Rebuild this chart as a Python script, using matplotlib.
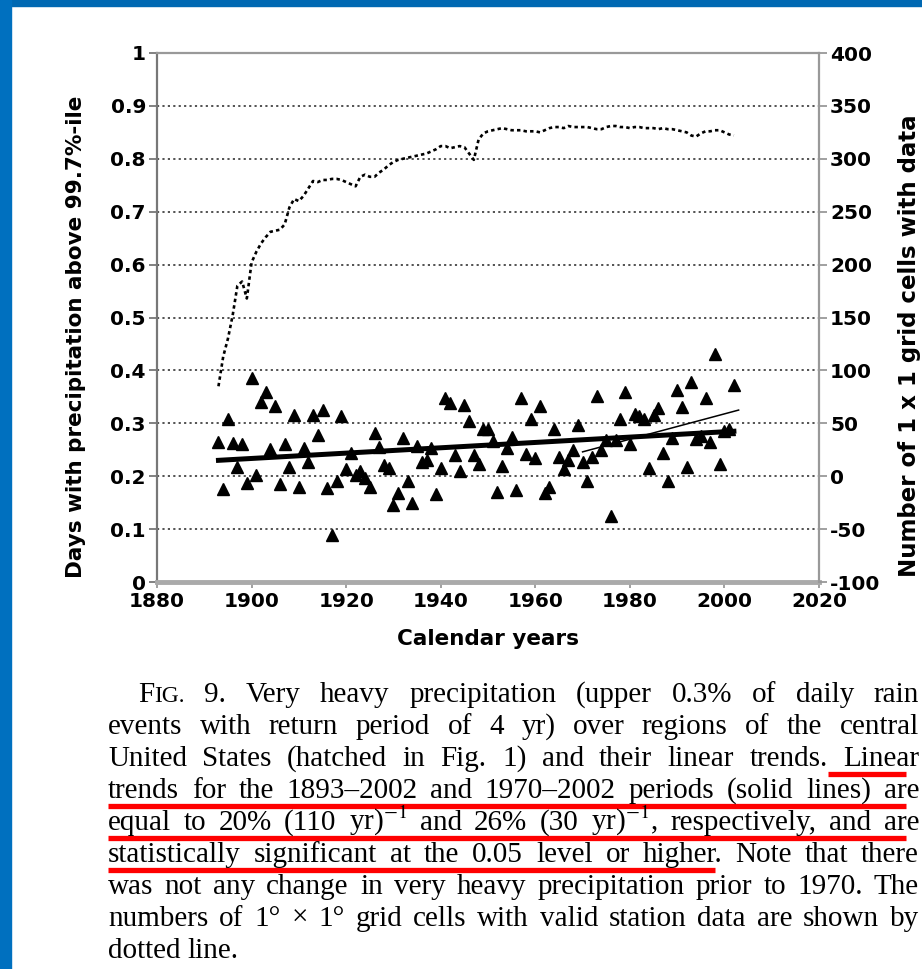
import matplotlib
matplotlib.use('Agg')
import matplotlib.pyplot as plt
from matplotlib.lines import Line2D
from matplotlib.patches import Rectangle

# ---------------------------------------------------------
# Data
# ---------------------------------------------------------
years = list(range(1893, 2003))

heavy_days = [
    0.265, 0.175, 0.308, 0.263, 0.218, 0.260, 0.188, 0.385, 0.202, 0.341,
    0.360, 0.251, 0.333, 0.185, 0.261, 0.218, 0.316, 0.180, 0.253, 0.227,
    0.316, 0.278, 0.325, 0.177, 0.089, 0.190, 0.314, 0.213, 0.243, 0.202,
    0.209, 0.196, 0.180, 0.281, 0.256, 0.221, 0.215, 0.146, 0.169, 0.272,
    0.190, 0.150, 0.257, 0.227, 0.231, 0.253, 0.166, 0.215, 0.347, 0.339,
    0.240, 0.209, 0.335, 0.304, 0.240, 0.224, 0.289, 0.289, 0.267, 0.171,
    0.219, 0.253, 0.275, 0.174, 0.347, 0.242, 0.308, 0.234, 0.333, 0.168,
    0.180, 0.289, 0.237, 0.213, 0.231, 0.250, 0.297, 0.227, 0.190, 0.237,
    0.352, 0.250, 0.268, 0.125, 0.268, 0.308, 0.360, 0.261, 0.318, 0.313,
    0.309, 0.215, 0.316, 0.328, 0.244, 0.190, 0.272, 0.363, 0.331, 0.218,
    0.379, 0.270, 0.276, 0.347, 0.265, 0.431, 0.223, 0.286, 0.290, 0.372,
]

grid_cells = [
    85, 113, 130, 152, 180, 184, 168, 202, 212, 220,
    226, 231, 232, 233, 238, 254, 262, 260, 265, 272,
    279, 278, 280, 280, 281, 281, 280, 278, 276, 274,
    283, 285, 283, 283, 287, 290, 294, 297, 299, 300,
    301, 302, 303, 304, 305, 307, 309, 312, 312, 310,
    311, 312, 311, 305, 299, 318, 324, 326, 327, 328,
    329, 328, 327, 327, 327, 326, 326, 326, 325, 327,
    329, 330, 330, 329, 331, 330, 330, 330, 330, 329,
    328, 328, 330, 331, 331, 330, 330, 329, 330, 330,
    329, 329, 329, 328, 329, 328, 328, 327, 326, 325,
    322, 321, 324, 326, 326, 327, 327, 325, 323, 322,
]

trend_long_years = [1893, 2002]
trend_long = [0.230, 0.285]
trend_recent_years = [1970, 2003]
trend_recent = [0.246, 0.325]

left_ticks = [0, 0.1, 0.2, 0.3, 0.4, 0.5, 0.6, 0.7, 0.8, 0.9, 1]
left_labels = ['0', '0.1', '0.2', '0.3', '0.4', '0.5', '0.6', '0.7', '0.8', '0.9', '1']
right_ticks = [-100, -50, 0, 50, 100, 150, 200, 250, 300, 350, 400]
x_ticks = [1880, 1900, 1920, 1940, 1960, 1980, 2000, 2020]

caption = [
    "FIG. 9. Very heavy precipitation (upper 0.3% of daily rain",
    "events with return period of 4 yr) over regions of the central",
    "United States (hatched in Fig. 1) and their linear trends. Linear",
    "trends for the 1893\u20132002 and 1970\u20132002 periods (solid lines) are",
    "equal to 20% (110 yr)$^{-1}$ and 26% (30 yr)$^{-1}$, respectively, and are",
    "statistically significant at the 0.05 level or higher. Note that there",
    "was not any change in very heavy precipitation prior to 1970. The",
    "numbers of 1\u00b0 \u00d7 1\u00b0 grid cells with valid station data are shown by",
    "dotted line.",
]
# (line index, x start px, x end px)
underlines = [(2, 828, 906), (3, 108, 906), (4, 108, 906), (5, 108, 715)]

# ---------------------------------------------------------
# Figure
# ---------------------------------------------------------
W, H = 922, 969
plt.rcParams['font.family'] = 'DejaVu Sans'
plt.rcParams['mathtext.fontset'] = 'stix'
plt.rcParams['axes.unicode_minus'] = False
fig = plt.figure(figsize=(W / 100, H / 100), dpi=100)


def fx(px):
    return px / W


def fy(py):
    return 1 - py / H


# blue slide frame
fig.patches.append(Rectangle((0, fy(6)), 1, 6 / H, transform=fig.transFigure,
                             color='#0068b2', zorder=0))
fig.patches.append(Rectangle((0, 0), fx(10.5), 1, transform=fig.transFigure,
                             color='#0070bf', zorder=0))

ax = fig.add_axes([fx(157), fy(582), fx(819) - fx(157), (582 - 53) / H])
ax.set_xlim(1880, 2020)
ax.set_ylim(0, 1)
ax.set_axisbelow(True)

ax.yaxis.grid(True, linestyle=(0, (1.2, 1.8)), color='#444444', lw=1.3)
ax.plot(years, heavy_days, linestyle='none', marker='^', ms=8.5,
        color='black', zorder=3)
ax.plot(trend_long_years, trend_long, color='black', lw=3.6, zorder=4)
ax.plot(trend_recent_years, trend_recent, color='black', lw=1.1, zorder=4)

ax.set_xticks(x_ticks)
ax.set_yticks(left_ticks)
ax.set_yticklabels(left_labels)
ax.tick_params(axis='y', direction='out', length=6, width=1.3, color='#777777',
               pad=2, labelsize=14.5)
ax.tick_params(axis='x', direction='out', length=4, width=1.3, color='#999999',
               pad=3, labelsize=14.5)
for lab in ax.get_xticklabels() + ax.get_yticklabels():
    lab.set_fontweight('bold')

ax.spines['left'].set_color('#777777')
ax.spines['left'].set_linewidth(1.6)
ax.spines['bottom'].set_color('#aaaaaa')
ax.spines['bottom'].set_linewidth(3.5)
ax.spines['top'].set_color('#999999')
ax.spines['top'].set_linewidth(1.6)
ax.spines['right'].set_visible(False)

ax.set_xlabel('Calendar years', fontsize=15.5, fontweight='bold')
ax.xaxis.set_label_coords(0.5, -0.088)
ax.set_ylabel('Days with precipitation above 99.7%-ile', fontsize=15.5,
              fontweight='bold', va='center')
ax.yaxis.set_label_coords(-0.122, 0.463)

ax2 = ax.twinx()
ax2.set_ylim(-100, 400)
ax2.set_yticks(right_ticks)
ax2.plot(years, grid_cells, color='black', lw=1.9, linestyle=(0, (1.3, 1.2)),
         zorder=3)
for side in ['left', 'top', 'bottom']:
    ax2.spines[side].set_visible(False)
ax2.spines['right'].set_color('#999999')
ax2.spines['right'].set_linewidth(1.6)
ax2.tick_params(axis='y', direction='out', length=6, width=1.3, color='#999999',
                pad=2, labelsize=14.5)
for lab in ax2.get_yticklabels():
    lab.set_fontweight('bold')
ax2.set_ylabel('Number of 1 x 1 grid cells with data', fontsize=16.5,
               fontweight='bold', va='center', rotation=90)
ax2.yaxis.set_label_coords(1.136, 0.446)

# ---------------------------------------------------------
# Caption, justified line by line
# ---------------------------------------------------------
renderer = fig.canvas.get_renderer()
cap_size = 21
cap_font = 'Liberation Serif'
right_edge = 919


def make_word(word):
    # returns list of Text pieces for one word
    if word == 'FIG.':
        pieces = [fig.text(0, 0, 'F', fontsize=cap_size, family=cap_font, va='baseline'),
                  fig.text(0, 0, 'IG.', fontsize=cap_size * 0.8, family=cap_font, va='baseline')]
    else:
        pieces = [fig.text(0, 0, word, fontsize=cap_size, family=cap_font, va='baseline')]
    return pieces


for i, line in enumerate(caption):
    base = 702 + 32 * i
    x0 = 138 if i == 0 else 108
    words = [make_word(w) for w in line.split(' ')]
    widths = [sum(p.get_window_extent(renderer).width for p in ws) for ws in words]
    if i < len(caption) - 1:
        gap = max((right_edge - x0 - sum(widths)) / (len(words) - 1), 3)
    else:
        gap = cap_size * 100 / 72 * 0.25
    x = x0
    for ws, wd in zip(words, widths):
        xx = x
        for p in ws:
            p.set_position((fx(xx), fy(base)))
            xx += p.get_window_extent(renderer).width
        x += wd + gap

for idx, xa, xb in underlines:
    yy = 702 + 32 * idx + 7.5
    fig.lines.append(Line2D([fx(xa), fx(xb)], [fy(yy), fy(yy)], transform=fig.transFigure,
                            color='#ff0000', lw=3.8, solid_capstyle='butt'))

fig.savefig('out.png', dpi=100)
